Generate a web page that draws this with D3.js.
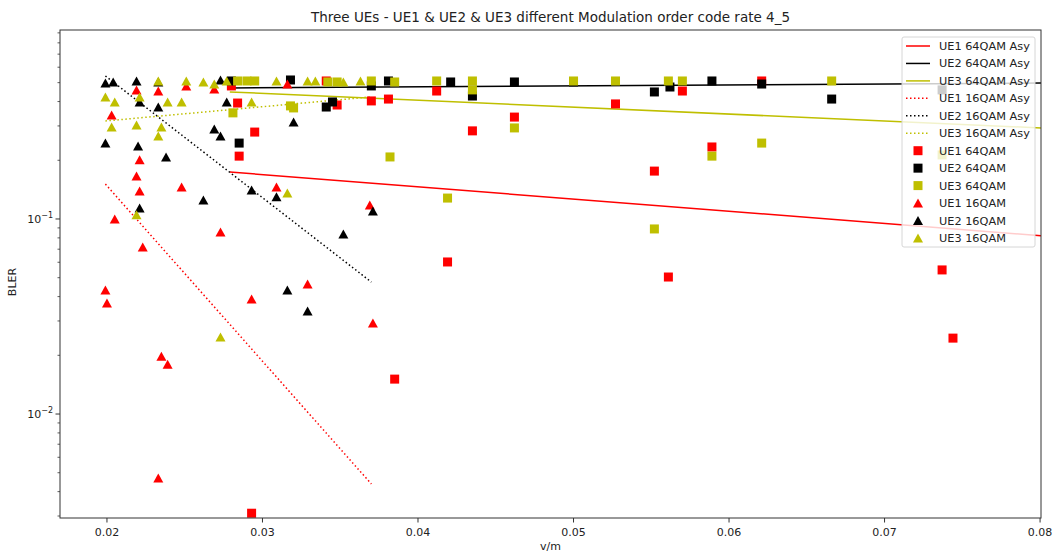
<!DOCTYPE html>
<html>
<head>
<meta charset="utf-8">
<script src="https://cdn.jsdelivr.net/npm/d3@7"></script>
<style>
  body { margin: 0; background: #fff; }
  svg { font-family: "DejaVu Sans", sans-serif; }
</style>
</head>
<body>
<svg id="chart" width="1056" height="556"></svg>
<script>
// ---- data: [v/m, BLER] ----
const ue1_64qam = [
  [0.0280, 0.481], [0.0284, 0.393], [0.0295, 0.279], [0.0285, 0.210], [0.0293, 0.0031],
  [0.0341, 0.510], [0.0348, 0.384], [0.0370, 0.403], [0.0381, 0.412], [0.0385, 0.0151],
  [0.0412, 0.453], [0.0419, 0.0602], [0.0435, 0.283], [0.0462, 0.333], [0.0527, 0.389],
  [0.0552, 0.176], [0.0561, 0.0504], [0.0570, 0.453], [0.0589, 0.234], [0.0621, 0.510],
  [0.0737, 0.0548], [0.0744, 0.0245]
];
const ue2_64qam = [
  [0.0280, 0.510], [0.0318, 0.516], [0.0285, 0.245], [0.0341, 0.375], [0.0345, 0.398],
  [0.0370, 0.481], [0.0381, 0.510], [0.0421, 0.504], [0.0435, 0.427], [0.0462, 0.504],
  [0.0500, 0.504], [0.0552, 0.448], [0.0562, 0.475], [0.0589, 0.510], [0.0621, 0.492],
  [0.0666, 0.412], [0.0737, 0.459]
];
const ue3_64qam = [
  [0.0284, 0.510], [0.0290, 0.510], [0.0295, 0.510], [0.0281, 0.350], [0.0318, 0.380],
  [0.0320, 0.371], [0.0342, 0.504], [0.0348, 0.504], [0.0370, 0.510], [0.0385, 0.504],
  [0.0382, 0.208], [0.0412, 0.510], [0.0419, 0.128], [0.0435, 0.510], [0.0435, 0.459],
  [0.0462, 0.293], [0.0500, 0.510], [0.0527, 0.510], [0.0552, 0.0889], [0.0561, 0.510],
  [0.0570, 0.510], [0.0589, 0.210], [0.0621, 0.245], [0.0666, 0.510], [0.0737, 0.213]
];
const ue1_16qam = [
  [0.0203, 0.341], [0.0219, 0.459], [0.0233, 0.453], [0.0221, 0.201], [0.0219, 0.166],
  [0.0221, 0.139], [0.0248, 0.146], [0.0205, 0.100], [0.0273, 0.0858], [0.0223, 0.0719],
  [0.0199, 0.0432], [0.0200, 0.0371], [0.0235, 0.0198], [0.0239, 0.0180], [0.0233, 0.0047],
  [0.0293, 0.0389], [0.0309, 0.146], [0.0329, 0.0464], [0.0369, 0.118], [0.0371, 0.0293],
  [0.0251, 0.481], [0.0269, 0.464], [0.0316, 0.492]
];
const ue2_16qam = [
  [0.0199, 0.498], [0.0204, 0.504], [0.0219, 0.510], [0.0233, 0.504], [0.0273, 0.516],
  [0.0221, 0.398], [0.0277, 0.398], [0.0233, 0.375], [0.0199, 0.245], [0.0220, 0.237],
  [0.0238, 0.208], [0.0269, 0.289], [0.0273, 0.266], [0.0221, 0.114], [0.0262, 0.125],
  [0.0293, 0.141], [0.0309, 0.130], [0.0320, 0.314], [0.0371, 0.110], [0.0352, 0.0838],
  [0.0316, 0.0432], [0.0329, 0.0337]
];
const ue3_16qam = [
  [0.0199, 0.422], [0.0205, 0.398], [0.0203, 0.296], [0.0219, 0.303], [0.0221, 0.422],
  [0.0233, 0.510], [0.0239, 0.398], [0.0248, 0.398], [0.0251, 0.510], [0.0262, 0.504],
  [0.0269, 0.492], [0.0277, 0.510], [0.0235, 0.296], [0.0233, 0.266], [0.0219, 0.105],
  [0.0273, 0.0248], [0.0293, 0.398], [0.0309, 0.510], [0.0316, 0.136], [0.0329, 0.510],
  [0.0334, 0.510], [0.0352, 0.504], [0.0363, 0.510]
];

// fitted ("Asy") lines: end points [x0, x1], [y0, y1]
const ue1_64_asy = { x: [0.0279, 0.0801], y: [0.174, 0.082] };
const ue2_64_asy = { x: [0.0279, 0.0801], y: [0.470, 0.498] };
const ue3_64_asy = { x: [0.0279, 0.0801], y: [0.448, 0.293] };
const ue1_16_asy = { x: [0.0199, 0.0370], y: [0.151, 0.00438] };
const ue2_16_asy = { x: [0.0199, 0.0370], y: [0.541, 0.0475] };
const ue3_16_asy = { x: [0.0199, 0.0370], y: [0.318, 0.423] };

const xTicks = [0.02, 0.03, 0.04, 0.05, 0.06, 0.07, 0.08];
const yDecades = [-2, -1];

const RED = "#ff0000", BLACK = "#000000", OLIVE = "#bfbf00";

const svg = d3.select("#chart");
const mLeft = 60, mRight = 1041, mTop = 30, mBottom = 518;

const x = d3.scaleLinear().domain([0.01698, 0.08006]).range([mLeft, mRight]);
const y = d3.scaleLog().domain([0.00293, 0.931]).range([mBottom, mTop]);

svg.append("defs").append("clipPath").attr("id", "plotclip")
  .append("rect").attr("x", mLeft).attr("y", mTop)
  .attr("width", mRight - mLeft).attr("height", mBottom - mTop);

const plot = svg.append("g").attr("clip-path", "url(#plotclip)");

// lines
const lines = [
  { d: ue1_64_asy, color: RED, dotted: false, label: "UE1 64QAM Asy" },
  { d: ue2_64_asy, color: BLACK, dotted: false, label: "UE2 64QAM Asy" },
  { d: ue3_64_asy, color: OLIVE, dotted: false, label: "UE3 64QAM Asy" },
  { d: ue1_16_asy, color: RED, dotted: true, label: "UE1 16QAM Asy" },
  { d: ue2_16_asy, color: BLACK, dotted: true, label: "UE2 16QAM Asy" },
  { d: ue3_16_asy, color: OLIVE, dotted: true, label: "UE3 16QAM Asy" }
];
lines.forEach(l => {
  plot.append("line")
    .attr("x1", x(l.d.x[0])).attr("y1", y(l.d.y[0]))
    .attr("x2", x(l.d.x[1])).attr("y2", y(l.d.y[1]))
    .attr("stroke", l.color).attr("stroke-width", 1.5)
    .attr("stroke-dasharray", l.dotted ? "1.5,2.5" : null);
});

const tri = "M0,-4.5L5,4.5L-5,4.5Z";
const series = [
  { data: ue1_64qam, color: RED, shape: "s", label: "UE1 64QAM" },
  { data: ue2_64qam, color: BLACK, shape: "s", label: "UE2 64QAM" },
  { data: ue3_64qam, color: OLIVE, shape: "s", label: "UE3 64QAM" },
  { data: ue1_16qam, color: RED, shape: "t", label: "UE1 16QAM" },
  { data: ue2_16qam, color: BLACK, shape: "t", label: "UE2 16QAM" },
  { data: ue3_16qam, color: OLIVE, shape: "t", label: "UE3 16QAM" }
];

function marker(g, shape, color) {
  if (shape === "s") {
    g.append("rect").attr("x", -4.5).attr("y", -4.5).attr("width", 9).attr("height", 9)
      .attr("fill", color);
  } else {
    g.append("path").attr("d", tri).attr("fill", color);
  }
}

series.forEach(s => {
  plot.append("g").selectAll("g").data(s.data).join("g")
    .attr("transform", d => `translate(${x(d[0])},${y(d[1])})`)
    .each(function () { marker(d3.select(this), s.shape, s.color); });
});

// frame
svg.append("rect").attr("x", mLeft).attr("y", mTop)
  .attr("width", mRight - mLeft).attr("height", mBottom - mTop)
  .attr("fill", "none").attr("stroke", "#333").attr("stroke-width", 1);

// x axis
const xa = svg.append("g").attr("font-size", 11).attr("fill", "#222");
xTicks.forEach(t => {
  xa.append("line").attr("x1", x(t)).attr("x2", x(t)).attr("y1", mBottom).attr("y2", mBottom + 4.5)
    .attr("stroke", "#333");
  xa.append("text").attr("x", x(t)).attr("y", mBottom + 18).attr("text-anchor", "middle")
    .text(d3.format(".2f")(t));
});
svg.append("text").attr("x", (mLeft + mRight) / 2).attr("y", 550).attr("text-anchor", "middle")
  .attr("font-size", 11).attr("fill", "#222").text("v/m");

// y axis (log)
const ya = svg.append("g").attr("font-size", 11).attr("fill", "#222");
yDecades.forEach(e => {
  const v = Math.pow(10, e);
  ya.append("line").attr("x1", mLeft - 4.5).attr("x2", mLeft).attr("y1", y(v)).attr("y2", y(v))
    .attr("stroke", "#333");
  const t = ya.append("text").attr("x", mLeft - 7).attr("y", y(v) + 4).attr("text-anchor", "end");
  t.append("tspan").text("10");
  t.append("tspan").attr("dy", -5).attr("font-size", 8).text("\u2212" + Math.abs(e));
});
[-3, -2, -1].forEach(e => {
  for (let m = 2; m <= 9; m++) {
    const v = m * Math.pow(10, e);
    if (v < y.domain()[0] || v > y.domain()[1]) continue;
    ya.append("line").attr("x1", mLeft - 2.5).attr("x2", mLeft).attr("y1", y(v)).attr("y2", y(v))
      .attr("stroke", "#333").attr("stroke-width", 0.8);
  }
});
svg.append("text").attr("transform", `translate(16,${(mTop + mBottom) / 2 + 8}) rotate(-90)`)
  .attr("text-anchor", "middle").attr("font-size", 11).attr("fill", "#222").text("BLER");

// title
svg.append("text").attr("x", (mLeft + mRight) / 2).attr("y", 22).attr("text-anchor", "middle")
  .attr("font-size", 13.5).attr("fill", "#222")
  .text("Three UEs - UE1 & UE2 & UE3 different Modulation order code rate 4_5");

// legend
const lg = svg.append("g").attr("transform", "translate(902,37)");
lg.append("rect").attr("width", 133).attr("height", 210).attr("rx", 2)
  .attr("fill", "#fff").attr("fill-opacity", 0.8).attr("stroke", "#d6d6d6");
const rowH = 17.45, row0 = 9;
lines.forEach((l, i) => {
  const yy = row0 + i * rowH;
  lg.append("line").attr("x1", 4).attr("x2", 28).attr("y1", yy).attr("y2", yy)
    .attr("stroke", l.color).attr("stroke-width", 1.5)
    .attr("stroke-dasharray", l.dotted ? "1.5,2.5" : null);
  lg.append("text").attr("x", 37).attr("y", yy + 4).attr("font-size", 11.3).attr("fill", "#222")
    .text(l.label);
});
series.forEach((s, i) => {
  const yy = row0 + (i + 6) * rowH;
  const g = lg.append("g").attr("transform", `translate(16,${yy})`);
  marker(g, s.shape, s.color);
  lg.append("text").attr("x", 37).attr("y", yy + 4).attr("font-size", 11.3).attr("fill", "#222")
    .text(s.label);
});
</script>
</body>
</html>
